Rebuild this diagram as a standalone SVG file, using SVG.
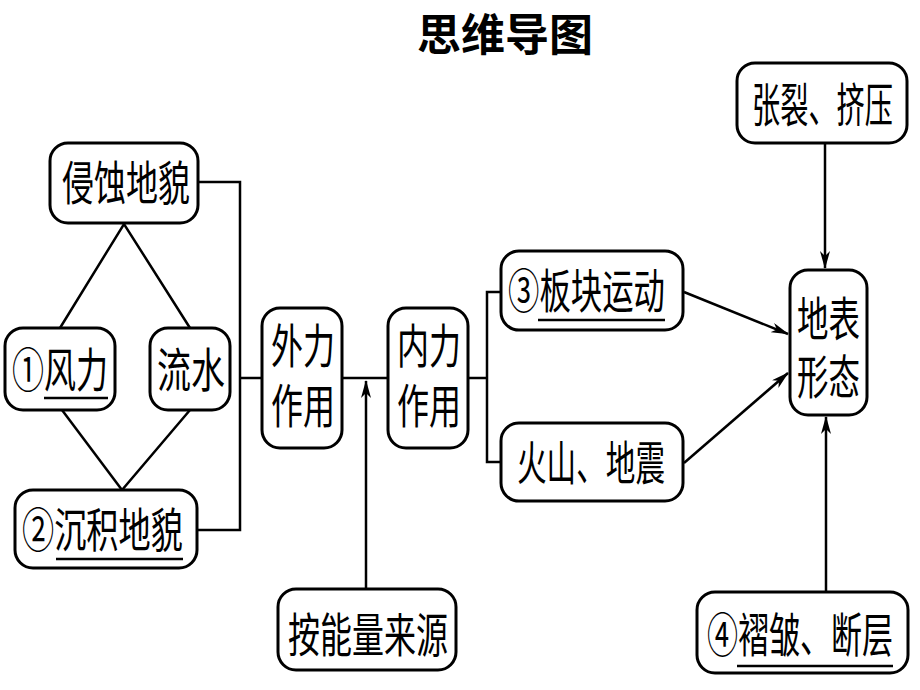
<svg xmlns="http://www.w3.org/2000/svg" width="920" height="690" viewBox="0 0 920 690">
<defs>
<style>
.box{fill:#fff;stroke:#000;stroke-width:3}
.t{font-family:"Noto Sans CJK SC","Noto Sans CJK JP",sans-serif;font-size:47px;fill:#000}
.title{font-family:"Noto Sans CJK SC",sans-serif;font-size:44px;font-weight:bold;fill:#000}
.ln{fill:none;stroke:#000;stroke-width:2.5}
.ul{stroke:#000;stroke-width:2.5}
</style>
<marker id="ah" viewBox="0 0 18 10" markerWidth="18" markerHeight="10" refX="17" refY="5" orient="auto" markerUnits="userSpaceOnUse">
<path d="M0,0 L18,5 L0,10 L5,5 z" fill="#000"/>
</marker>
</defs>
<rect width="920" height="690" fill="#fff"/>
<text class="title" x="505" y="51" text-anchor="middle">思维导图</text>

<g id="connectors">
<polyline class="ln" points="198,182 240,182 240,530 197,530"/>
<line class="ln" x1="240" y1="378" x2="262" y2="378"/>
<polyline class="ln" points="60,328 124,224 190,328"/>
<polyline class="ln" points="62,410 122,490 190,410"/>
<line class="ln" x1="342" y1="378" x2="388" y2="378"/>
<line class="ln" x1="366" y1="589" x2="366" y2="381" marker-end="url(#ah)"/>
<line class="ln" x1="468" y1="378" x2="487" y2="378"/>
<polyline class="ln" points="501,292 487,292 487,462 501,462"/>
<line class="ln" x1="684" y1="292" x2="788" y2="334" marker-end="url(#ah)"/>
<line class="ln" x1="684" y1="463" x2="788" y2="373" marker-end="url(#ah)"/>
<line class="ln" x1="825" y1="143" x2="825" y2="268" marker-end="url(#ah)"/>
<line class="ln" x1="826" y1="592" x2="826" y2="417" marker-end="url(#ah)"/>
</g>

<g id="n-qinshi">
<rect class="box" x="50" y="143" width="148" height="80" rx="18"/>
<text class="t" transform="translate(62,200) scale(0.681,1)">侵蚀地貌</text>
</g>
<g id="n-fengli">
<rect class="box" x="5" y="328" width="110" height="82" rx="18"/>
<text class="t" transform="translate(12,387) scale(0.681,1)">①风力</text>
<line class="ul" x1="44" y1="398" x2="108" y2="398"/>
</g>
<g id="n-liushui">
<rect class="box" x="150" y="328" width="80" height="82" rx="18"/>
<text class="t" transform="translate(157,387) scale(0.723,1)">流水</text>
</g>
<g id="n-chenji">
<rect class="box" x="15" y="490" width="182" height="78" rx="18"/>
<text class="t" transform="translate(22,547) scale(0.685,1)">②沉积地貌</text>
<line class="ul" x1="56" y1="559" x2="183" y2="559"/>
</g>
<g id="n-waili">
<rect class="box" x="262" y="308" width="80" height="140" rx="18"/>
<text class="t" transform="translate(271,0) scale(0.681,1)"><tspan x="0" y="363">外力</tspan><tspan x="0" y="423">作用</tspan></text>
</g>
<g id="n-neili">
<rect class="box" x="388" y="308" width="80" height="140" rx="18"/>
<text class="t" transform="translate(397,0) scale(0.681,1)"><tspan x="0" y="363">内力</tspan><tspan x="0" y="423">作用</tspan></text>
</g>
<g id="n-bankuai">
<rect class="box" x="501" y="251" width="182" height="79" rx="18"/>
<text class="t" transform="translate(508,308) scale(0.668,1)">③板块运动</text>
<line class="ul" x1="538" y1="320" x2="665" y2="320"/>
</g>
<g id="n-huoshan">
<rect class="box" x="501" y="423" width="182" height="78" rx="18"/>
<text class="t" transform="translate(517,480) scale(0.63,1)">火山、地震</text>
</g>
<g id="n-dibiao">
<rect class="box" x="790" y="270" width="77" height="145" rx="18"/>
<text class="t" transform="translate(797,0) scale(0.67,1)"><tspan x="0" y="336">地表</tspan><tspan x="0" y="394">形态</tspan></text>
</g>
<g id="n-zhangl">
<rect class="box" x="737" y="63" width="170" height="80" rx="18"/>
<text class="t" transform="translate(752,122) scale(0.6,1)">张裂、挤压</text>
</g>
<g id="n-nengliang">
<rect class="box" x="278" y="589" width="178" height="81" rx="18"/>
<text class="t" transform="translate(288,652) scale(0.681,1)">按能量来源</text>
</g>
<g id="n-zhezhou">
<rect class="box" x="697" y="592" width="211" height="81" rx="18"/>
<text class="t" transform="translate(707,652) scale(0.66,1)">④褶皱、断层</text>
<line class="ul" x1="737" y1="666" x2="893" y2="666"/>
</g>
</svg>
